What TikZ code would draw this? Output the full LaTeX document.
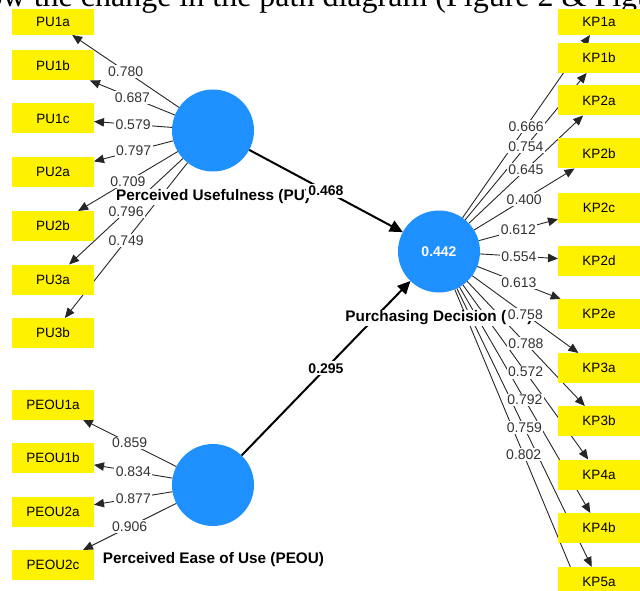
\documentclass[tikz,border=0pt]{standalone}
\usepackage{fontspec}
\setmainfont{Liberation Sans}
\newfontfamily\captionfont{Liberation Serif}
\usetikzlibrary{arrows.meta,backgrounds}
\definecolor{lvblue}{RGB}{30,144,255}
\definecolor{loadgray}{RGB}{51,51,51}

\begin{document}
\begin{tikzpicture}[x=1pt,y=-1pt,
  ind/.style = {rectangle,fill=yellow,minimum width=82pt,minimum height=30pt,inner sep=0pt,outer sep=0pt,font=\fontsize{13.5}{15}\selectfont},
  lv/.style = {circle,fill=lvblue,minimum size=82pt,inner sep=0pt,outer sep=0pt},
  lvname/.style = {fill=white,inner sep=1pt,font=\fontsize{15.3}{17}\selectfont\bfseries},
  load/.style = {draw=black!85,line width=0.9pt,-{Triangle[length=10pt,width=8.5pt]}},
  effect/.style = {draw=black,line width=2pt,-{Triangle[length=13pt,width=12pt]}},
  loadval/.style = {fill=white,inner sep=1.5pt,text=loadgray,font=\fontsize{14}{16}\selectfont},
  effval/.style = {fill=white,inner sep=2.2pt,font=\fontsize{14}{16}\selectfont\bfseries}]
\useasboundingbox (0,0) rectangle (640,591);

% caption of the page, cut at the top
\node[anchor=base west,inner sep=0pt,font=\captionfont\fontsize{32}{36}\selectfont] (caption) at (-42,6.5)
  {show the change in the path diagram (Figure 2 \& Figure 3)};

% constructs
\node[lv] (pu) at (213,130.5) {};
\node[lv] (peou) at (213,485) {};
\node[lv] (kp) at (439,251.5) {\textcolor{white}{\fontsize{14}{16}\selectfont\bfseries 0.442}};

% indicators
\node[ind,minimum height=26pt] (PU1a) at (53,22) {PU1a};
\foreach \n/\y in {PU1b/65.5, PU1c/118.5, PU2a/172, PU2b/226, PU3a/279.5, PU3b/333,
                   PEOU1a/404.5, PEOU1b/458, PEOU2a/511.5, PEOU2c/565}
    \node[ind] (\n) at (53,\y) {\n};
\node[ind,minimum height=26pt] (KP1a) at (599,22) {KP1a};
\foreach \n/\y in {KP1b/58, KP2a/100.5, KP2b/153.5, KP2c/208, KP2d/261, KP2e/314,
                   KP3a/368, KP3b/421, KP4a/474.5, KP4b/528, KP5a/582}
    \node[ind] (\n) at (599,\y) {\n};
\coordinate (KP5b) at (592.7,620.5);

% construct names
\node[lvname] (puname) at (213,197) {Perceived Usefulness (PU)};
\node[lvname] (peouname) at (213.5,560) {Perceived Ease of Use (PEOU)};
\node[lvname] (kpname) at (439,318) {Purchasing Decision (KP)};

% outer loadings
\foreach \n/\v in {PU1a/0.780, PU1b/0.687, PU1c/0.579, PU2a/0.797, PU2b/0.709, PU3a/0.796, PU3b/0.749} {
    \begin{scope}[on background layer]
        \draw[load] (pu) -- (\n);
    \end{scope}
    \path (pu) -- node[loadval] {\v} (\n);
}
\foreach \n/\v in {PEOU1a/0.859, PEOU1b/0.834, PEOU2a/0.877, PEOU2c/0.906} {
    \begin{scope}[on background layer]
        \draw[load] (peou) -- (\n);
    \end{scope}
    \path (peou) -- node[loadval] {\v} (\n);
}
\foreach \n/\v in {KP1a/0.666, KP1b/0.754, KP2a/0.645, KP2b/0.400, KP2c/0.612, KP2d/0.554, KP2e/0.613,
                   KP3a/0.758, KP3b/0.788, KP4a/0.572, KP4b/0.792, KP5a/0.759, KP5b/0.802} {
    \begin{scope}[on background layer]
        \draw[load] (kp) -- (\n);
    \end{scope}
    \path (kp) -- node[loadval] {\v} (\n);
}

% path coefficients
\begin{scope}[on background layer]
    \draw[effect] (pu) -- (kp);
    \draw[effect] (peou) -- (kp);
\end{scope}
\path (pu) -- node[effval] {0.468} (kp);
\path (peou) -- node[effval] {0.295} (kp);
\end{tikzpicture}
\end{document}
